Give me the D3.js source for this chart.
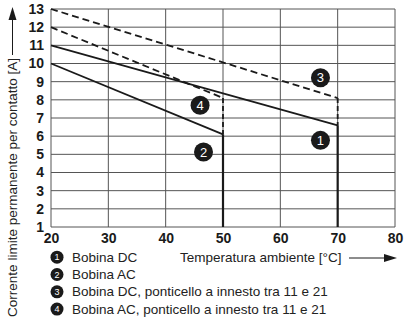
<!DOCTYPE html>
<html><head><meta charset="utf-8">
<script src="https://cdn.jsdelivr.net/npm/d3@7"></script>
<style>body{margin:0;background:#fff}svg{display:block;font-family:"Liberation Sans",Arial,sans-serif}</style>
</head><body><svg id="c" width="408" height="323"></svg>
<script>
const xTicks = [20, 30, 40, 50, 60, 70, 80];
const yTicks = [1, 2, 3, 4, 5, 6, 7, 8, 9, 10, 11, 12, 13];
const dcSolidX = [20, 70], dcSolidY = [11, 6.6];
const acSolidX = [20, 50], acSolidY = [10, 6.1];
const dcBridgeX = [20, 70], dcBridgeY = [13, 8.1];
const acBridgeX = [20, 50], acBridgeY = [12, 8.1];
const badgeNum = ["1", "2", "3", "4"];
const badgeX = [67.0, 46.6, 67.0, 46.0];
const badgeY = [5.77, 5.13, 9.22, 7.70];
const legendLabels = ["Bobina DC", "Bobina AC", "Bobina DC, ponticello a innesto tra 11 e 21", "Bobina AC, ponticello a innesto tra 11 e 21"];
const xTitle = "Temperatura ambiente [°C]";
const yTitle = "Corrente limite permanente per contatto [A]";

const svg = d3.select("#c");
const x = d3.scaleLinear().domain([20, 80]).range([51, 395]);
const y = d3.scaleLinear().domain([1, 13]).range([227, 9]);
const ink = "#1a1a1a", grid = "#555";

// grid
svg.append("g").selectAll("line").data(xTicks).join("line")
  .attr("x1", d => x(d)).attr("x2", d => x(d)).attr("y1", y(1)).attr("y2", y(13))
  .attr("stroke", grid).attr("stroke-width", 1);
svg.append("g").selectAll("line").data(yTicks).join("line")
  .attr("y1", d => y(d)).attr("y2", d => y(d)).attr("x1", x(20)).attr("x2", x(80))
  .attr("stroke", grid).attr("stroke-width", 1);

// axes (labels only)
const xa = svg.append("g").attr("transform", `translate(0,${y(1)})`)
  .call(d3.axisBottom(x).tickValues(xTicks).tickSize(0).tickPadding(6).tickFormat(d3.format("d")));
xa.select(".domain").remove();
xa.selectAll("text").attr("font-size", 14).attr("font-weight", "bold").attr("fill", ink).attr("font-family", "Liberation Sans, Arial, sans-serif");
const ya = svg.append("g").attr("transform", `translate(${x(20)},0)`)
  .call(d3.axisLeft(y).tickValues(yTicks).tickSize(0).tickPadding(7).tickFormat(d3.format("d")));
ya.select(".domain").remove();
ya.selectAll("text").attr("font-size", 14).attr("font-weight", "bold").attr("fill", ink).attr("font-family", "Liberation Sans, Arial, sans-serif");

// series
const line = d3.line().x(d => x(d[0])).y(d => y(d[1]));
const series = [
  {xs: dcSolidX, ys: dcSolidY, dash: null},
  {xs: acSolidX, ys: acSolidY, dash: null},
  {xs: dcBridgeX, ys: dcBridgeY, dash: "7,4"},
  {xs: acBridgeX, ys: acBridgeY, dash: "7,4"}
];
series.forEach(s => {
  svg.append("path").attr("d", line(s.xs.map((v, i) => [v, s.ys[i]])))
    .attr("fill", "none").attr("stroke", ink).attr("stroke-width", 1.8)
    .attr("stroke-dasharray", s.dash);
});
// vertical drop lines
[[dcSolidX, dcSolidY, dcBridgeY], [acSolidX, acSolidY, acBridgeY]].forEach(([xs, ys, bys]) => {
  const xe = xs[xs.length - 1], ye = ys[ys.length - 1], be = bys[bys.length - 1];
  svg.append("path").attr("d", line([[xe, ye], [xe, 1]]))
    .attr("fill", "none").attr("stroke", ink).attr("stroke-width", 2.2);
  svg.append("path").attr("d", line([[xe, be], [xe, ye]]))
    .attr("fill", "none").attr("stroke", ink).attr("stroke-width", 1.8).attr("stroke-dasharray", "5,3");
});

// badges
const bg = svg.append("g").selectAll("g").data(badgeNum).join("g")
  .attr("transform", (d, i) => `translate(${x(badgeX[i])},${y(badgeY[i])})`);
bg.append("circle").attr("r", 9.5).attr("fill", ink);
bg.append("text").text(d => d).attr("text-anchor", "middle").attr("dy", "0.36em")
  .attr("font-size", 13).attr("fill", "#fff");

// x title + arrow
svg.append("text").attr("x", 180).attr("y", 262).text(xTitle)
  .attr("font-size", 13.5).attr("fill", "#222");
svg.append("line").attr("x1", 349).attr("x2", 386).attr("y1", 258).attr("y2", 258).attr("stroke", ink).attr("stroke-width", 1);
svg.append("path").attr("d", "M397,258 L384,254 L384,262 Z").attr("fill", ink);

// y title + arrow
svg.append("text").attr("transform", "translate(17,58) rotate(-90)").attr("text-anchor", "end")
  .text(yTitle).attr("font-size", 13.5).attr("fill", "#222");
svg.append("line").attr("x1", 12.5).attr("x2", 12.5).attr("y1", 55).attr("y2", 19).attr("stroke", ink).attr("stroke-width", 1);
svg.append("path").attr("d", "M12.5,7 L8.5,20 L16.5,20 Z").attr("fill", ink);

// legend
const lg = svg.append("g").selectAll("g").data(legendLabels).join("g")
  .attr("transform", (d, i) => `translate(57,${261.7 + i * 17.3})`);
lg.append("circle").attr("cy", -4.5).attr("r", 6.5).attr("fill", ink);
lg.append("text").text((d, i) => badgeNum[i]).attr("text-anchor", "middle").attr("y", -1.3)
  .attr("font-size", 9).attr("fill", "#fff");
lg.append("text").text(d => d).attr("x", 15).attr("font-size", 13.5).attr("fill", "#222");
</script></body></html>
